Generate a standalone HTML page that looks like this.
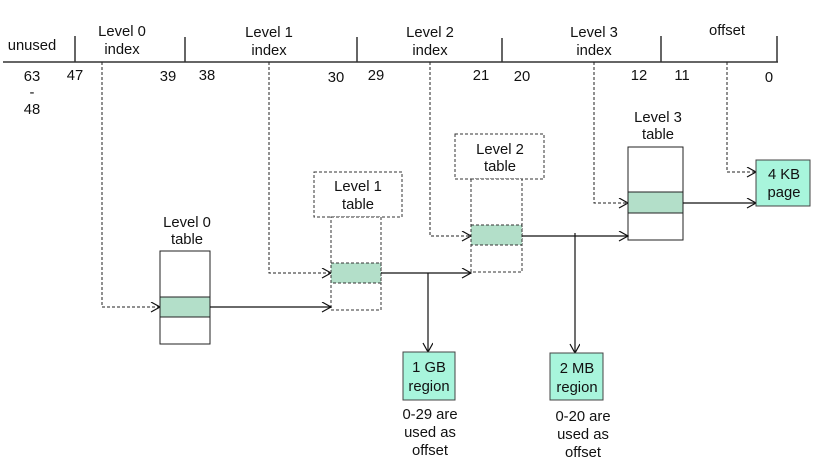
<!DOCTYPE html>
<html><head><style>
html,body{margin:0;padding:0;background:#fff;}
svg text{font-family:"Liberation Sans",Arial,sans-serif;font-size:14.8px;fill:#111;text-anchor:middle;}
</style></head><body>
<svg width="832" height="463" viewBox="0 0 832 463" xmlns="http://www.w3.org/2000/svg">
<defs>
<marker id="a" markerWidth="12" markerHeight="12" refX="10" refY="5" orient="auto" markerUnits="userSpaceOnUse">
<path d="M1,0 L10,5 L1,10" fill="none" stroke="#111" stroke-width="1.2"/>
</marker>
</defs>
<g stroke="#333" stroke-width="1.5" fill="none">
<line x1="3" y1="62" x2="778" y2="62"/>
<line x1="75" y1="36" x2="75" y2="62"/>
<line x1="185" y1="37" x2="185" y2="62"/>
<line x1="357" y1="37" x2="357" y2="62"/>
<line x1="502" y1="38" x2="502" y2="62"/>
<line x1="661" y1="36" x2="661" y2="62"/>
<line x1="777" y1="36" x2="777" y2="62"/>
</g>
<text x="32" y="50">unused</text>
<text x="122" y="36">Level 0</text><text x="122" y="54">index</text>
<text x="269" y="37">Level 1</text><text x="269" y="55">index</text>
<text x="430" y="37">Level 2</text><text x="430" y="55">index</text>
<text x="594" y="37">Level 3</text><text x="594" y="55">index</text>
<text x="727" y="35">offset</text>
<text x="32" y="81">63</text><text x="32" y="97">-</text><text x="32" y="114">48</text>
<text x="75" y="80">47</text><text x="168" y="81">39</text>
<text x="207" y="80">38</text><text x="336" y="82">30</text>
<text x="376" y="80">29</text><text x="481" y="80">21</text>
<text x="522" y="81">20</text><text x="639" y="80">12</text>
<text x="682" y="80">11</text><text x="769" y="82">0</text>

<g stroke="#222" stroke-width="1" fill="none" stroke-dasharray="3,2">
<polyline points="102,62 102,307 160,307" marker-end="url(#a)"/>
<polyline points="269,62 269,273 331,273" marker-end="url(#a)"/>
<polyline points="430,62 430,236 471,236" marker-end="url(#a)"/>
<polyline points="594,62 594,203 628,203" marker-end="url(#a)"/>
<polyline points="727,62 727,172 756,172" marker-end="url(#a)"/>
</g>

<text x="187" y="227">Level 0</text><text x="187" y="244">table</text>
<rect x="160" y="251" width="50" height="93" fill="#fff" stroke="#222" stroke-width="1"/>
<rect x="160" y="297" width="50" height="20" fill="#b3dfc9" stroke="#222" stroke-width="1"/>

<rect x="314" y="172" width="88" height="45" fill="#fff" stroke="#333" stroke-width="1" stroke-dasharray="3,2"/>
<text x="358" y="191">Level 1</text><text x="358" y="209">table</text>
<rect x="331" y="217" width="50" height="93" fill="#fff" stroke="#333" stroke-width="1" stroke-dasharray="3,2"/>
<rect x="331" y="263" width="50" height="20" fill="#b3dfc9" stroke="#333" stroke-width="1" stroke-dasharray="3,2"/>

<rect x="455" y="134" width="89" height="45" fill="#fff" stroke="#333" stroke-width="1" stroke-dasharray="3,2"/>
<text x="500" y="154">Level 2</text><text x="500" y="171">table</text>
<rect x="471" y="179" width="51" height="93" fill="#fff" stroke="#333" stroke-width="1" stroke-dasharray="3,2"/>
<rect x="471" y="225" width="51" height="20" fill="#b3dfc9" stroke="#333" stroke-width="1" stroke-dasharray="3,2"/>

<text x="658" y="122">Level 3</text><text x="658" y="139">table</text>
<rect x="628" y="147" width="55" height="93" fill="#fff" stroke="#222" stroke-width="1"/>
<rect x="628" y="192" width="55" height="21" fill="#b3dfc9" stroke="#222" stroke-width="1"/>

<g stroke="#111" stroke-width="1.2" fill="none">
<line x1="210" y1="307" x2="331" y2="307" marker-end="url(#a)"/>
<line x1="381" y1="273" x2="471" y2="273" marker-end="url(#a)"/>
<line x1="428" y1="273" x2="428" y2="352" marker-end="url(#a)"/>
<line x1="522" y1="236" x2="628" y2="236" marker-end="url(#a)"/>
<line x1="575" y1="233" x2="575" y2="353" marker-end="url(#a)"/>
<line x1="683" y1="203" x2="756" y2="203" marker-end="url(#a)"/>
</g>

<rect x="756" y="160" width="54" height="46" fill="#a8f5dc" stroke="#444" stroke-width="1"/>
<text x="784" y="179">4 KB</text><text x="784" y="197">page</text>
<rect x="403" y="352" width="52" height="48" fill="#a8f5dc" stroke="#444" stroke-width="1"/>
<text x="429" y="372">1 GB</text><text x="429" y="391">region</text>
<rect x="550" y="353" width="53" height="47" fill="#a8f5dc" stroke="#444" stroke-width="1"/>
<text x="577" y="373">2 MB</text><text x="577" y="392">region</text>

<text x="430" y="419">0-29 are</text><text x="430" y="437">used as</text><text x="430" y="455">offset</text>
<text x="583" y="421">0-20 are</text><text x="583" y="439">used as</text><text x="583" y="457">offset</text>
</svg>
</body></html>
